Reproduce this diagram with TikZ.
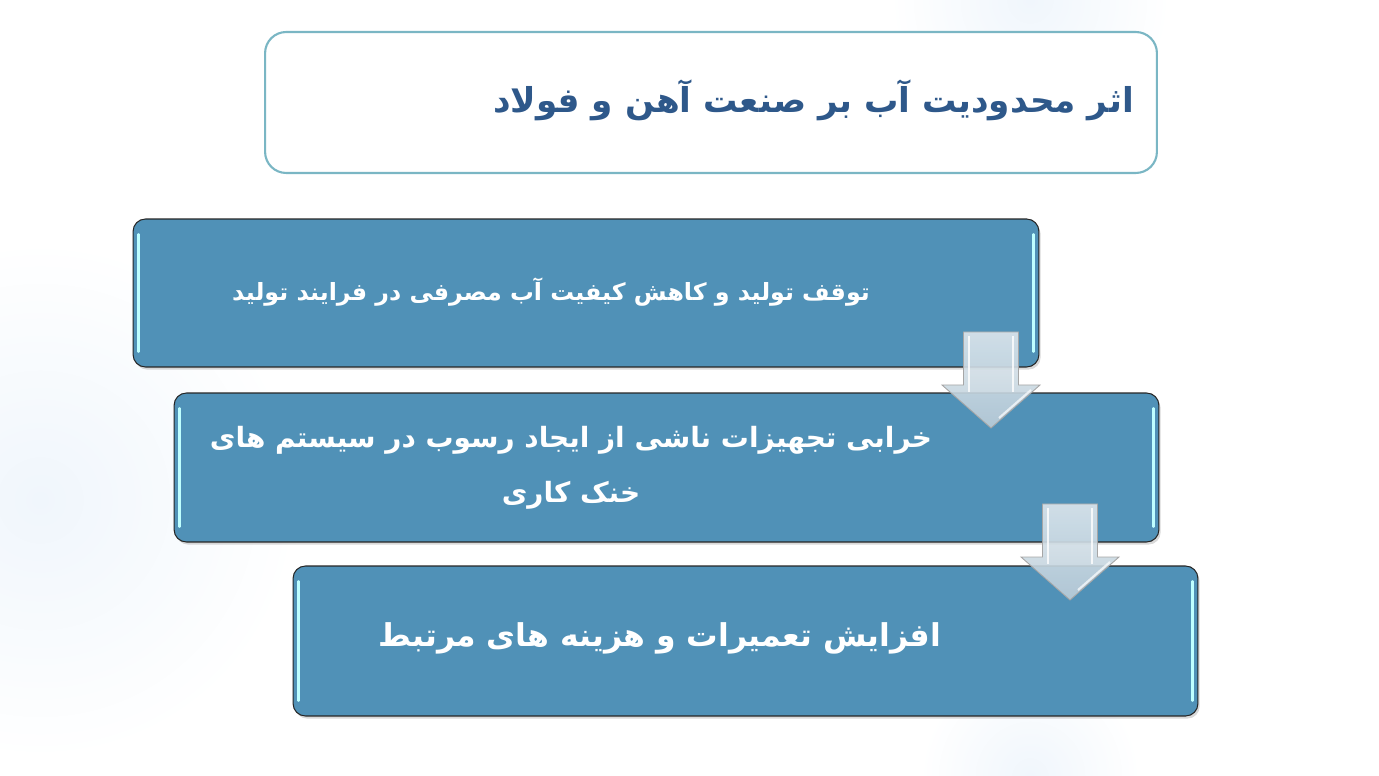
\documentclass[tikz,border=0pt]{standalone}
\usepackage{fontspec}
\usepackage{tikz}
\usetikzlibrary{shadows}
\newfontfamily\arabicfont[Script=Arabic]{DejaVu Sans}
\TeXXeTstate=1
\definecolor{white}{RGB}{255,255,255}
\definecolor{steel_blue}{RGB}{80,145,183}
\definecolor{title_blue}{RGB}{46,88,138}
\definecolor{frame_teal}{RGB}{122,182,196}
\definecolor{arrow_top}{RGB}{222,231,237}
\definecolor{arrow_bottom}{RGB}{186,204,216}
\definecolor{glow_blue}{RGB}{240,246,252}

\begin{document}
\begin{tikzpicture}[x=0.02cm,y=-0.02cm]
	\useasboundingbox (0,0) rectangle (1379,776);
	\shade[inner color=glow_blue,outer color=white] (40,500) circle (260);
	\shade[inner color=glow_blue,outer color=white] (1030,0) circle (140);
	\shade[inner color=glow_blue,outer color=white] (1030,776) circle (110);

	\node[rectangle,rounded corners=12pt,draw=frame_teal,line width=1.2pt,fill=white,minimum width=17.84cm,minimum height=2.82cm] (t) at (711,102.5) {};
	\node[anchor=east,text=title_blue,font=\arabicfont\bfseries\fontsize{19.5}{24}\selectfont] (tl) at (1140,100) {\beginR اثر محدودیت آب بر صنعت آهن و فولاد\endR};

	\tikzset{box/.style={rectangle,rounded corners=7pt,draw=black!85,fill=steel_blue,line width=0.6pt,drop shadow={shadow xshift=1pt,shadow yshift=-1.5pt,opacity=0.3}}}
	\node[box,minimum width=18.12cm,minimum height=2.96cm] (1) at (586,293) {};
	\node[box,minimum width=19.7cm,minimum height=2.98cm] (2) at (666.5,467.5) {};
	\node[box,minimum width=18.1cm,minimum height=3cm] (3) at (745.5,641) {};

	\foreach \b in {1,2,3}{
		\draw[white!75!cyan,line width=1.4pt,line cap=round] ([xshift=3.5pt,yshift=-9pt]\b.north west) -- ([xshift=3.5pt,yshift=9pt]\b.south west);
		\draw[white!75!cyan,line width=1.4pt,line cap=round] ([xshift=-3.5pt,yshift=-9pt]\b.north east) -- ([xshift=-3.5pt,yshift=9pt]\b.south east);
	}

	\node[text=white,font=\arabicfont\bfseries\fontsize{13.5}{17}\selectfont] (1l) at (551,292) {\beginR توقف تولید و کاهش کیفیت آب مصرفی در فرایند تولید\endR};
	\node[text=white,align=center,font=\arabicfont\bfseries\fontsize{15.9}{31}\selectfont] (2l) at (571,468) {\beginR خرابی تجهیزات ناشی از ایجاد رسوب در سیستم های\endR\\\beginR خنک کاری\endR};
	\node[text=white,font=\arabicfont\bfseries\fontsize{17.9}{22}\selectfont] (3l) at (660,638) {\beginR افزایش تعمیرات و هزینه های مرتبط\endR};

	% block arrows between the boxes
	\foreach \x/\y in {991/332,1070/504}{
		\draw[gray!70,line width=0.5pt,top color=arrow_top,bottom color=arrow_bottom,fill opacity=0.9]
			(\x-27.5,\y) -- (\x+27.5,\y) -- (\x+27.5,\y+53) -- (\x+49,\y+53) -- (\x,\y+96) -- (\x-49,\y+53) -- (\x-27.5,\y+53) -- cycle;
		\draw[white,opacity=0.8,line width=1.2pt] (\x-22,\y+4) -- (\x-22,\y+60);
		\draw[white,opacity=0.8,line width=1.2pt] (\x+22,\y+4) -- (\x+22,\y+60);
		\draw[white,opacity=0.7,line width=1.2pt] (\x+8,\y+86) -- (\x+40,\y+58);
	}
\end{tikzpicture}
\end{document}
